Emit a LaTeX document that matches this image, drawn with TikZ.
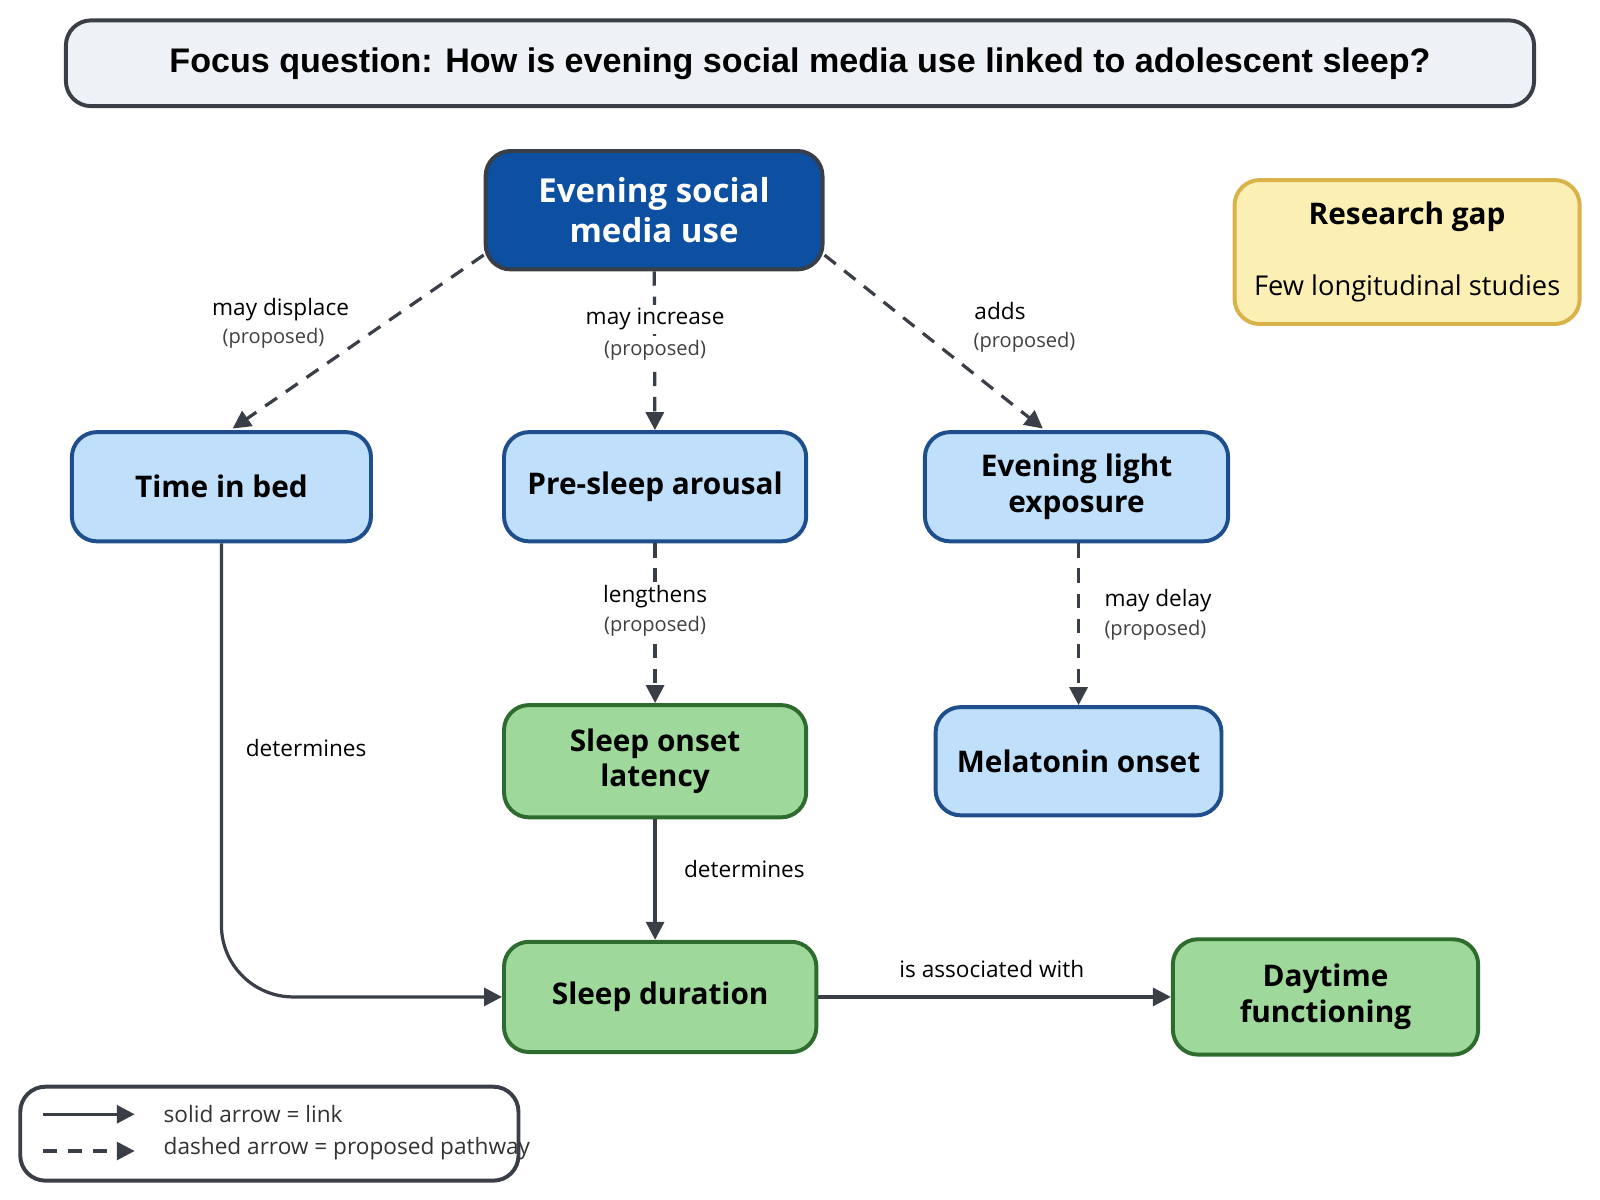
\documentclass[tikz,border=0pt]{standalone}
\usepackage{fontspec}
\setmainfont{Open Sans}
\newfontfamily\titlefont{Liberation Sans}
\usetikzlibrary{arrows.meta,positioning}
\definecolor{edgegray}{HTML}{3A3F47}
\definecolor{darkblue}{HTML}{0D4FA0}
\definecolor{lightblue}{HTML}{BFDFFA}
\definecolor{bluebord}{HTML}{1F4E8C}
\definecolor{lightgreen}{HTML}{9ED89A}
\definecolor{greenbord}{HTML}{2E6B2E}
\definecolor{gapfill}{HTML}{FCEFB4}
\definecolor{gapbord}{HTML}{D9B24A}
\definecolor{titlefill}{HTML}{EEF1F5}
\tikzset{
  box/.style={draw, rounded corners=7pt, line width=1.1pt, align=center,
    font=\bfseries\fontsize{8.3}{10}\selectfont, inner sep=0pt},
  bluebox/.style={box, fill=lightblue, draw=bluebord},
  greenbox/.style={box, fill=lightgreen, draw=greenbord},
  link/.style={draw=edgegray, line width=0.9pt, -{Triangle[length=5pt,width=5pt]}},
  proposed/.style={link, dashed, dash pattern=on 4pt off 3pt},
  lab/.style={font=\fontsize{6.3}{8}\selectfont, align=center, text=black},
  sub/.style={font=\fontsize{5.6}{7}\selectfont, text=black!75}
}
\begin{document}
\begin{tikzpicture}[x=0.01cm,y=-0.01cm]
\useasboundingbox (0,0) rectangle (1568,1176);
% title
\node[box, fill=titlefill, draw=edgegray, minimum width=14.38cm, minimum height=0.84cm,
  font=\titlefont\bfseries\fontsize{9.5}{11}\selectfont] (title) at (784,62)
  {Focus question: How is evening social media use linked to adolescent sleep?};
% nodes
\node[box, fill=darkblue, draw=edgegray, text=white, minimum width=3.3cm, minimum height=1.16cm,
  font=\bfseries\fontsize{9.2}{11}\selectfont] (esm) at (641,206) {Evening social\\media use};
\node[box, fill=gapfill, draw=gapbord, minimum width=3.38cm, minimum height=1.41cm] (gap) at (1379,247)
  {Research gap\\[10pt]{\mdseries\fontsize{7.6}{9}\selectfont Few longitudinal studies}};
\node[bluebox, minimum width=2.93cm, minimum height=1.07cm] (bed) at (217,477) {Time in bed};
\node[bluebox, minimum width=2.96cm, minimum height=1.07cm] (arousal) at (642,477) {Pre-sleep arousal};
\node[bluebox, minimum width=2.97cm, minimum height=1.07cm] (light) at (1055,477) {Evening light\\exposure};
\node[greenbox, minimum width=2.96cm, minimum height=1.1cm] (sol) at (642,746) {Sleep onset\\latency};
\node[bluebox, minimum width=2.8cm, minimum height=1.06cm] (mel) at (1057,746) {Melatonin onset};
\node[greenbox, minimum width=3.06cm, minimum height=1.08cm] (dur) at (647,977) {Sleep duration};
\node[greenbox, minimum width=2.99cm, minimum height=1.13cm] (day) at (1299,977) {Daytime\\functioning};
% connectors
\draw[proposed] (esm.south west) ++(0,-16) -- (228,420);
\node[lab] at (275,303) {may displace};
\node[sub] at (268,332) {(proposed)};
\draw[proposed] (esm) -- (arousal);
\node[lab, fill=white, inner sep=1pt] at (642,313) {may increase};
\node[sub, fill=white, inner sep=1pt] at (642,343) {(proposed)};
\draw[proposed] (esm.south east) ++(0,-16) -- (1022,420);
\node[lab] at (980,305) {adds};
\node[sub] at (1004,335) {(proposed)};
\draw[proposed] (arousal) -- (sol);
\node[lab, fill=white, inner sep=1pt] at (642,585) {lengthens};
\node[sub, fill=white, inner sep=1pt] at (642,614) {(proposed)};
\draw[proposed] (light.south) ++(2,0) -- (mel.north);
\node[lab, anchor=west] at (1070,589) {may delay};
\node[sub, anchor=west] at (1070,618) {(proposed)};
\draw[link, rounded corners=20pt] (bed.south) |- (dur.west);
\node[lab] at (300,733) {determines};
\draw[link] (sol) -- (sol |- dur.north);
\node[lab, anchor=west] at (658,852) {determines};
\draw[link] (dur) -- (day);
\node[lab] at (972,950) {is associated with};
% legend
\node[box, draw=edgegray, fill=white, minimum width=4.88cm, minimum height=0.92cm] (legend) at (264,1111) {};
\coordinate (l1a) at (42,1092); \coordinate (l1b) at (132,1092);
\coordinate (l2a) at (42,1128); \coordinate (l2b) at (132,1128);
\draw[link] (l1a) -- (l1b);
\draw[proposed] (l2a) -- (l2b);
\node[lab, anchor=west, text=black!80] at (148,1092) {solid arrow = link};
\node[lab, anchor=west, text=black!80] at (148,1126) {dashed arrow = proposed pathway};
\end{tikzpicture}
\end{document}
